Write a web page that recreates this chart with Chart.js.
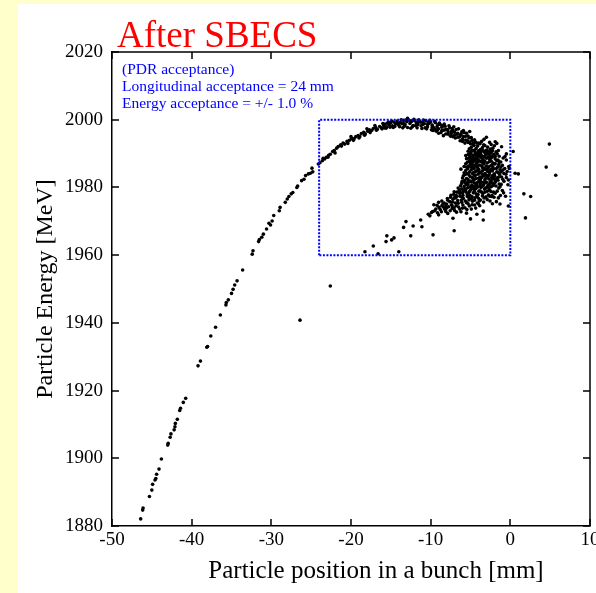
<!DOCTYPE html>
<html>
<head>
<meta charset="utf-8">
<script src="https://cdn.jsdelivr.net/npm/chart.js@4.4.1/dist/chart.umd.min.js"></script>
<style>
  html, body { margin: 0; padding: 0; background: #ffffcc; width: 596px; height: 593px; overflow: hidden; }
  #panel { position: absolute; left: 18px; top: 4px; width: 578px; height: 589px; background: #fff; }
  canvas { display: block; }
</style>
</head>
<body>
<div id="panel"><canvas id="sbecs-chart" width="578" height="589"></canvas></div>
<script>
  // axis ranges / ticks
  const xRange = [-50, 10];
  const yRange = [1880, 2020];
  const xStep = 10;
  const yStep = 20;

  // acceptance box corners [mm, MeV]
  const boxX = [-24, -24, 0, 0, -24];
  const boxY = [1960, 2000, 2000, 1960, 1960];

  const titleText = 'After SBECS';
  const noteLines = ['(PDR acceptance)', 'Longitudinal acceptance = 24 mm', 'Energy acceptance = +/- 1.0 %'];
  const xTitle = 'Particle position in a bunch [mm]';
  const yTitle = 'Particle Energy [MeV]';

  // low energy tail of the bunch
  const tailPoints = [
    [-46.4,1882.1],[-46.15,1884.7],[-46.1,1885.3],[-45.3,1888.7],[-45.0,1890.6],[-44.9,1892.3],[-44.6,1893.6],
    [-44.5,1894.0],[-44.4,1895.3],[-44.1,1896.8],[-43.8,1899.8],[-43.0,1903.9],[-42.95,1904.4],[-42.7,1906.2],
    [-42.6,1907.2],[-42.2,1908.4],[-42.1,1909.3],[-42.05,1910.3],[-41.8,1911.5],[-41.5,1914.1],[-41.4,1914.8],
    [-41.05,1916.5],[-40.75,1917.7],[-39.2,1927.3],[-38.9,1928.7],[-38.1,1932.8],[-38.0,1933.0],[-37.6,1936.1],
    [-37.0,1938.7],[-36.4,1942.3],[-35.7,1945.3],[-35.65,1946.0],[-35.4,1946.8],[-35.0,1948.7],[-34.8,1949.9],
    [-34.6,1951.2],[-34.3,1952.4],[-33.6,1955.6],[-32.4,1960.3],[-32.3,1961.3],[-31.6,1964.0],[-31.5,1964.6],
    [-31.2,1965.3],[-31.0,1966.2],[-30.6,1967.7],[-30.3,1969.4],[-30.1,1968.9],[-29.9,1970.1],[-29.7,1971.7],
    [-29.0,1973.1],[-28.9,1974.1],[-28.25,1975.6],[-28.0,1976.6],[-27.8,1977.3],[-27.5,1978.1],[-27.3,1978.5],
    [-26.8,1980.0],[-26.7,1980.4],[-26.2,1982.0],[-25.9,1982.4],[-25.7,1983.5],[-25.35,1984.0],[-25.1,1984.2],
    [-24.8,1984.6],[-24.9,1985.7],[-24.1,1986.9]
  ];

  // upper arc inside the acceptance box
  const arcPoints = [
    [-23.9,1987.3],[-23.6,1987.9],[-23.3,1988.4],[-23.1,1988.9],[-22.8,1989.5],[-22.6,1989.8],[-22.3,1990.6],
    [-22.1,1990.9],[-21.8,1991.6],[-21.6,1992.1],[-21.3,1992.6],[-21.0,1993.1],[-20.8,1992.8],[-20.5,1993.6],
    [-20.2,1993.9],[-19.9,1994.5],[-19.6,1994.4],[-19.4,1995.0],[-19.1,1995.3],[-18.9,1995.0],[-18.7,1995.9],
    [-18.4,1996.3],[-18.2,1995.8],[-17.9,1996.6],[-17.7,1997.0],[-17.4,1996.8],[-17.2,1997.4],[-16.9,1997.7],
    [-16.7,1997.2],[-16.4,1998.0],[-16.2,1997.6],[-15.9,1998.3],[-15.7,1998.7],[-15.5,1997.9],[-15.2,1998.5],
    [-15.0,1999.1],[-14.8,1998.2],[-14.6,1999.3],[-14.4,1998.7],[-14.2,1999.6],[-14.0,1998.4],[-13.8,1999.2],
    [-13.6,1998.8],[-13.4,1999.8],[-13.2,1998.5],[-13.0,1999.4],[-12.8,2000.0],[-12.6,1998.9],[-12.4,1999.5],
    [-12.2,1998.3],[-12.0,1999.7],[-11.8,1999.0],[-11.6,1998.6],[-11.4,1999.6],[-11.2,1998.2],[-11.0,1999.2],
    [-10.8,1998.8],[-10.6,1999.7],[-10.4,1997.9],[-10.2,1998.9],[-10.0,1999.3],[-9.8,1998.4],[-9.6,1997.6],
    [-9.4,1999.1],[-9.2,1998.0],[-9.0,1997.3],[-8.8,1998.6],[-8.6,1997.8],[-8.4,1996.9],[-8.2,1998.1],
    [-8.0,1997.2],[-7.8,1996.4],[-7.6,1997.6],[-7.4,1995.9],[-7.2,1996.8],[-7.0,1995.4],[-6.8,1997.1],
    [-6.6,1996.0],[-6.4,1994.9],[-6.2,1995.7],[-6.0,1994.3],[-5.8,1996.2],[-5.6,1995.1],[-5.4,1993.8],
    [-5.2,1994.6],[-5.0,1992.9],[-4.8,1993.9],
    [-15.8,1997.6],[-15.1,1997.8],[-14.5,1998.0],[-13.9,1997.9],[-13.3,1998.1],[-12.9,1997.7],[-12.3,1997.9],
    [-11.7,1997.6],[-11.1,1997.4],[-10.5,1997.3],[-9.9,1997.0],[-9.3,1996.6],[-8.7,1996.2],[-8.1,1995.8],
    [-7.5,1995.1],[-6.9,1994.6],[-6.3,1993.8],[-5.7,1993.1],
    [-15.4,1999.0],[-14.9,1999.6],[-13.7,2000.0],[-12.9,2000.4],[-12.1,2000.1],[-11.5,2000.0],[-10.9,1999.9],
    [-10.1,1999.8],[-9.5,1999.5],[-8.9,1999.0],[-8.3,1998.7],[-7.7,1998.2],[-7.1,1997.9],[-6.5,1997.3],
    [-5.9,1996.8],[-5.5,1996.0],[-5.1,1996.5],
    [-16.0,1998.9],[-15.6,1997.5],[-15.3,1999.3],[-14.7,1997.7],[-14.3,1999.0],[-13.5,1997.6],[-13.1,1999.9],
    [-12.5,1997.5],[-11.9,1998.2],[-11.3,1999.3],[-10.7,1997.6],[-10.3,1999.2],[-9.7,1996.8],[-9.1,1998.5],
    [-8.5,1998.2],[-7.9,1997.0],[-7.3,1997.4],[-6.7,1995.7],[-6.1,1996.4],[-5.3,1995.2],[-4.9,1994.7],
    [-4.5,1994.1],[-4.2,1993.1],[-3.6,1993.6],[-3.3,1994.2],[-2.4,1992.7],[-2.0,1992.3],
    [-23.5,1988.6],[-22.9,1988.9],[-22.0,1990.2],[-21.2,1992.2],[-20.4,1993.0],[-19.7,1993.9],[-19.0,1994.6],
    [-18.3,1995.4],[-17.6,1996.2],[-16.8,1996.9],[-16.1,1997.3],[-20.0,1995.0],[-18.0,1997.3],[-17.0,1998.3],
    [-9.8,1997.8],[-9.4,1997.2],[-9.0,1996.0],[-8.6,1996.8],[-8.2,1997.0],[-7.8,1995.7],[-7.4,1996.5],
    [-7.0,1996.3],[-6.6,1994.8],[-6.3,1995.2],[-5.9,1995.0],[-5.6,1994.0],[-5.3,1993.3],[-4.6,1993.1],
    [-7.2,1995.0],[-6.0,1993.6],[-8.4,1995.3],[-9.2,1996.9],[-10.4,1998.6],[-11.0,1998.6],[-11.6,1999.3],
    [-12.6,1999.7],[-13.4,1998.9],[-14.1,1998.9]
  ];

  // dense head of the bunch
  const corePoints = [
    [-5.1,1993.4],[-4.7,1992.8],[-4.4,1993.5],[-4.1,1992.2],[-3.8,1992.9],[-3.5,1991.8],[-4.9,1991.9],
    [-4.3,1991.5],[-3.2,1992.4],[-2.6,1993.3],[-3.0,1994.8],[-2.2,1991.6],[-1.9,1993.5],[-1.5,1990.9],
    [-5.3,1990.7],[-5.0,1990.2],[-4.8,1991.0],[-4.6,1989.6],[-4.4,1990.4],[-4.2,1989.1],[-4.0,1990.8],
    [-3.9,1989.9],[-3.7,1990.3],[-3.5,1989.2],[-3.3,1990.6],[-3.1,1989.5],[-2.9,1990.9],[-2.7,1989.8],
    [-2.4,1990.2],[-2.1,1989.4],[-1.8,1990.5],[-4.5,1988.5],[-4.1,1988.2],[-3.8,1988.9],[-3.4,1988.1],
    [-3.0,1988.6],[-2.6,1988.3],[-2.3,1988.9],[-1.9,1988.4],[-1.4,1989.2],[-0.9,1988.7],[-0.5,1989.9],
    [-5.6,1989.4],[-5.2,1988.7],[-4.8,1988.1],
    [-5.4,1987.4],[-5.0,1986.8],[-4.7,1987.5],[-4.5,1986.2],[-4.3,1987.0],[-4.1,1985.8],[-3.9,1986.6],
    [-3.7,1987.6],[-3.5,1985.9],[-3.3,1986.9],[-3.1,1985.3],[-2.9,1987.2],[-2.7,1986.1],[-2.5,1985.0],
    [-2.3,1986.7],[-2.1,1985.5],[-1.9,1987.0],[-1.6,1986.0],[-1.3,1985.2],[-1.0,1986.5],[-0.7,1985.6],
    [-0.4,1984.7],[-0.2,1986.2],[-4.9,1985.2],[-4.4,1984.6],[-3.8,1984.3],[-3.2,1984.1],[-2.6,1984.4],
    [-2.0,1984.0],[-1.5,1984.3],[-0.8,1984.1],[-5.8,1986.2],[-5.6,1985.0],[-4.6,1987.9],[-3.6,1987.8],
    [-2.4,1987.8],[-1.2,1987.5],
    [-5.9,1983.4],[-5.5,1982.6],[-5.2,1983.7],[-5.0,1981.9],[-4.8,1983.0],[-4.6,1982.1],[-4.4,1983.5],
    [-4.2,1981.4],[-4.0,1982.7],[-3.8,1981.1],[-3.6,1982.9],[-3.4,1980.6],[-3.2,1982.3],[-3.0,1981.5],
    [-2.8,1983.2],[-2.6,1980.9],[-2.4,1982.0],[-2.2,1983.6],[-2.0,1981.2],[-1.7,1982.6],[-1.4,1981.0],
    [-1.1,1983.1],[-0.8,1981.8],[-0.5,1982.9],[-5.3,1980.7],[-4.7,1980.3],[-4.1,1980.1],[-3.5,1983.8],
    [-2.9,1980.2],[-1.8,1980.4],[-0.3,1980.8],[-0.13,1985.6],[-0.5,1988.1],[-0.67,1989.1],[-1.1,1992.0],
    [-1.7,1993.0],[-0.25,1982.2],[-1.3,1980.2],
    [-6.4,1979.2],[-6.0,1978.4],[-5.7,1979.6],[-5.4,1977.8],[-5.1,1978.9],[-4.8,1977.2],[-4.6,1979.5],
    [-4.3,1978.1],[-4.0,1976.8],[-3.8,1979.0],[-3.5,1977.5],[-3.2,1978.6],[-2.9,1976.4],[-2.6,1979.3],
    [-2.3,1977.7],[-1.9,1978.3],[-1.5,1976.9],[-1.0,1979.1],[-0.6,1977.4],[-6.8,1977.6],[-7.2,1976.5],
    [-6.6,1976.1],[-5.9,1976.7],[-5.2,1976.3],[-3.7,1980.0],[-2.35,1977.3],[-1.3,1975.1],[-0.25,1974.5],
    [-4.55,1992.4],[-3.95,1993.1],[-3.35,1992.6],[-2.85,1991.9],[-5.15,1991.4],[-4.65,1990.9],[-3.75,1991.2],
    [-3.05,1991.0],[-2.55,1990.6],[-4.95,1989.9],[-4.35,1989.7],[-3.65,1989.5],[-2.95,1989.9],[-2.25,1990.8],
    [-1.65,1989.9],[-5.05,1989.1],[-4.75,1988.9],[-4.25,1988.6],[-3.55,1988.7],[-2.75,1988.9],[-2.05,1989.8],
    [-1.55,1988.1],[-5.15,1987.9],[-4.85,1987.1],[-4.15,1987.4],[-3.45,1987.3],[-2.65,1987.6],[-2.15,1987.2],
    [-1.45,1986.8],[-5.25,1986.3],[-4.65,1986.5],[-3.95,1985.3],[-3.25,1985.7],[-2.45,1986.4],[-1.75,1985.6],
    [-0.95,1985.1],[-5.35,1985.5],[-4.55,1985.6],[-4.25,1984.9],[-3.55,1984.8],[-2.85,1984.7],[-2.25,1984.9],
    [-1.15,1984.6],[-5.45,1984.2],[-4.75,1984.1],[-4.05,1983.9],[-3.35,1983.4],[-2.65,1983.7],[-1.95,1983.3],
    [-1.35,1983.8],[-0.55,1983.9],[-5.65,1983.8],[-5.05,1983.2],[-4.35,1982.6],[-3.75,1982.3],[-3.05,1982.8],
    [-2.35,1982.9],[-1.55,1982.1],[-0.95,1982.4],[-5.75,1982.0],[-5.25,1981.5],[-4.55,1981.3],[-3.95,1981.8],
    [-3.25,1981.2],[-2.55,1981.6],[-1.85,1981.7],[-1.15,1980.9],[-6.05,1981.8],[-5.55,1981.1],[-4.85,1980.6],
    [-4.25,1980.7],[-3.55,1980.3],[-2.75,1980.0],[-2.15,1980.6],[-1.45,1979.8],[-6.25,1980.5],[-5.35,1979.9],
    [-4.95,1979.4],[-4.35,1979.6],[-3.95,1978.9],[-3.25,1979.5],[-2.45,1978.8],[-1.65,1978.9],[-0.85,1978.4],
    [-6.55,1979.8],[-5.85,1979.0],[-5.55,1978.6],[-4.65,1978.4],[-4.05,1977.9],[-3.45,1978.2],[-2.75,1977.8],
    [-2.05,1977.1],[-1.25,1977.6],[-7.05,1978.7],[-6.35,1978.2],[-5.95,1977.7],[-5.05,1977.6],[-4.45,1976.9],
    [-3.75,1976.3],[-3.05,1977.2],[-2.55,1976.0],[-1.75,1975.8],[-7.45,1977.7],[-6.85,1976.9],[-6.15,1976.3],
    [-5.65,1976.0],[-4.75,1975.9],[-4.15,1975.4],[-3.35,1975.7],[-2.25,1975.2],[-7.85,1976.2],[-7.25,1975.7],
    [-6.55,1975.3],[-5.95,1974.8],[-5.15,1974.5],[-4.35,1973.9],[-3.85,1974.6],
    [-4.9,1990.6],[-4.5,1991.0],[-4.15,1990.0],[-3.85,1990.6],[-3.45,1990.9],[-3.15,1990.1],[-2.8,1990.3],
    [-2.5,1991.3],[-4.7,1989.2],[-4.0,1989.4],[-3.3,1989.0],[-2.45,1989.3],[-1.9,1989.1],[-4.9,1988.5],
    [-4.4,1987.8],[-3.9,1987.9],[-3.2,1987.7],[-2.5,1988.6],[-1.7,1987.9],[-5.0,1987.5],[-4.2,1986.3],
    [-3.6,1986.4],[-3.0,1986.3],[-2.2,1986.0],[-1.4,1987.6],[-4.8,1985.9],[-4.0,1985.0],[-3.4,1985.2],
    [-2.8,1985.6],[-2.0,1986.9],[-1.2,1986.0],[-4.6,1984.5],[-3.9,1984.4],[-3.1,1983.7],[-2.4,1985.3],
    [-1.7,1984.6],[-5.1,1984.6],[-4.5,1983.6],[-3.8,1983.1],[-2.95,1983.5],[-2.1,1982.6],[-1.5,1983.0],
    [-5.3,1982.3],[-4.7,1982.7],[-3.9,1982.0],[-3.2,1981.7],[-2.7,1982.5],[-1.9,1982.0],[-5.4,1981.4],
    [-4.9,1981.6],[-4.3,1981.0],[-3.6,1981.5],[-2.8,1980.7],[-2.3,1981.3],[-5.0,1980.1],[-4.45,1980.3],
    [-3.8,1980.6],[-3.1,1979.8],[-2.4,1980.2],[-5.6,1979.3],[-5.2,1978.5],[-4.5,1978.9],[-3.6,1978.6],
    [-2.9,1978.9],[-2.1,1978.6],[-6.1,1979.6],[-5.4,1977.3],[-4.2,1977.4],[-3.3,1976.9],[-2.6,1977.4],
    [-6.3,1978.8],[-6.0,1977.1],[-4.9,1976.6],[-3.9,1976.0],[-5.2,1977.0],[-4.5,1976.2],[-6.7,1977.4],
    [-7.0,1977.0],[-5.5,1975.5],[-4.8,1974.9],[-4.0,1975.1],[-5.0,1986.1],[-5.5,1986.0],[-5.6,1987.0],
    [-5.3,1989.7],[-5.5,1988.5],[-5.8,1984.3],[-6.0,1982.8],[-5.7,1981.5],[-6.2,1985.4]
  ];

  // lower branch falling back towards the tail
  const branchPoints = [
    [-7.6,1975.8],[-8.0,1975.1],[-7.3,1974.6],[-6.9,1975.4],[-6.5,1974.2],[-6.1,1975.6],[-5.7,1974.0],
    [-5.3,1975.2],[-4.9,1973.6],[-4.5,1974.8],[-8.4,1974.2],[-8.8,1973.5],[-9.2,1974.7],[-9.5,1973.1],
    [-9.9,1972.6],[-8.1,1972.9],[-7.0,1973.2],[-6.2,1972.8],[-5.5,1972.4],[-4.2,1972.1],[-3.4,1973.0],
    [-10.3,1972.1],[-9.0,1971.9],[-3.4,1970.4],[-5.0,1970.7],[-7.2,1970.9],[-10.1,1971.6],[-11.25,1970.4],
    [-11.1,1968.4],[-12.2,1968.6],[-13.1,1969.9],[-13.4,1968.2],[-12.5,1965.7],[-9.7,1966.0],[-7.05,1967.2],
    [-15.5,1965.7],[-15.6,1964.0],[-14.9,1964.5],[-14.6,1965.1],[-17.2,1962.7],[-18.25,1961.0],[-16.6,1960.4],
    [-14.0,1961.0],[-9.6,1974.9],[-9.0,1975.6],[-8.6,1976.0],[-8.3,1975.4],[-7.9,1976.7],[-7.5,1977.1],
    [-7.1,1978.0],[-6.7,1978.6],[-6.3,1977.4],[-5.8,1980.3],[-5.5,1980.9],[-6.1,1981.2],
    [-8.45,1975.2],[-7.75,1974.3],[-7.05,1974.0],[-6.35,1973.6],[-5.45,1973.5],[-8.95,1974.1],[-8.25,1973.6],
    [-7.55,1973.1],[-6.75,1972.7],[-9.35,1973.6],[-8.65,1972.8],[-7.85,1972.3],[-9.75,1972.9],[-9.15,1972.5],
    [-6.8,1974.6],[-7.4,1974.9],[-8.1,1974.5],[-6.0,1973.9],[-7.3,1973.8],[-8.6,1974.6],[-8.0,1973.9]
  ];

  // stray particles
  const strayPoints = [
    [-26.4,1940.8],[-22.6,1950.9],[0.35,1990.6],[0.6,1984.2],[1.0,1984.0],[1.7,1978.1],[2.55,1977.3],
    [1.9,1971.0],[4.9,1992.8],[4.5,1986.0],[5.7,1983.6]
  ];

  const serif = 'Liberation Serif';

  // frame on the top/right, inward tick marks on all sides, free text
  const framePlugin = {
    id: 'frame',
    afterDraw(chart) {
      const { ctx, chartArea: a, scales: { x, y } } = chart;
      const tick = 7;
      ctx.save();
      ctx.strokeStyle = '#000';
      ctx.lineWidth = 1.5;
      ctx.beginPath();
      ctx.moveTo(a.left, a.top);
      ctx.lineTo(a.right, a.top);
      ctx.lineTo(a.right, a.bottom);
      ctx.stroke();

      ctx.beginPath();
      x.ticks.forEach(t => {
        const px = Math.round(x.getPixelForValue(t.value));
        ctx.moveTo(px, a.bottom); ctx.lineTo(px, a.bottom - tick);
        ctx.moveTo(px, a.top); ctx.lineTo(px, a.top + tick);
      });
      y.ticks.forEach(t => {
        const py = Math.round(y.getPixelForValue(t.value));
        ctx.moveTo(a.left, py); ctx.lineTo(a.left + tick, py);
        ctx.moveTo(a.right, py); ctx.lineTo(a.right - tick, py);
      });
      ctx.stroke();

      ctx.textAlign = 'left';
      ctx.textBaseline = 'alphabetic';
      ctx.fillStyle = '#ff0000';
      ctx.font = `37px "${serif}"`;
      ctx.fillText(titleText, a.left + 5, a.top - 5);

      ctx.fillStyle = '#0000ff';
      ctx.font = `15.5px "${serif}"`;
      noteLines.forEach((line, i) => ctx.fillText(line, a.left + 10, a.top + 22 + i * 17));

      ctx.fillStyle = '#000';
      ctx.font = `25px "${serif}"`;
      ctx.textAlign = 'center';
      ctx.fillText(xTitle, (a.left + a.right) / 2 + 25, a.bottom + 52);

      ctx.font = `24px "${serif}"`;
      ctx.translate(34, (a.top + a.bottom) / 2);
      ctx.rotate(-Math.PI / 2);
      ctx.fillText(yTitle, 0, 0);
      ctx.restore();
    }
  };

  const toXY = p => ({ x: p[0], y: p[1] });
  const particles = [].concat(tailPoints, arcPoints, corePoints, branchPoints, strayPoints).map(toXY);
  const boxData = boxX.map((v, i) => ({ x: v, y: boxY[i] }));

  const ctx = document.getElementById('sbecs-chart').getContext('2d');
  window.sbecsChart = new Chart(ctx, {
    type: 'scatter',
    data: {
      datasets: [
        {
          label: 'PDR acceptance',
          type: 'line',
          data: boxData,
          borderColor: '#0000ff',
          borderWidth: 2,
          borderDash: [2, 1.5],
          pointRadius: 0,
          fill: false,
          tension: 0
        },
        {
          label: 'Particles',
          data: particles,
          pointRadius: 1.8,
          pointBorderWidth: 0,
          backgroundColor: '#000',
          borderColor: '#000'
        }
      ]
    },
    options: {
      responsive: false,
      animation: false,
      layout: { autoPadding: false, padding: { top: 48, right: 6, left: 0, bottom: 0 } },
      plugins: {
        legend: { display: false },
        tooltip: { enabled: false }
      },
      scales: {
        x: {
          type: 'linear',
          min: xRange[0],
          max: xRange[1],
          ticks: { stepSize: xStep, color: '#000', padding: 3, maxRotation: 0, font: { family: serif, size: 19 },
                   callback: v => String(v) },
          grid: { drawOnChartArea: false, drawTicks: false },
          border: { display: true, color: '#000', width: 1.5 },
          afterFit: s => { s.height = 67; s.paddingLeft = 0; s.paddingRight = 0; }
        },
        y: {
          type: 'linear',
          min: yRange[0],
          max: yRange[1],
          ticks: { stepSize: yStep, color: '#000', padding: 9, font: { family: serif, size: 19 },
                   callback: v => String(v) },
          grid: { drawOnChartArea: false, drawTicks: false },
          border: { display: true, color: '#000', width: 1.5 },
          afterFit: s => { s.width = 94; s.paddingTop = 0; s.paddingBottom = 0; }
        }
      }
    },
    plugins: [framePlugin]
  });
</script>
</body>
</html>
